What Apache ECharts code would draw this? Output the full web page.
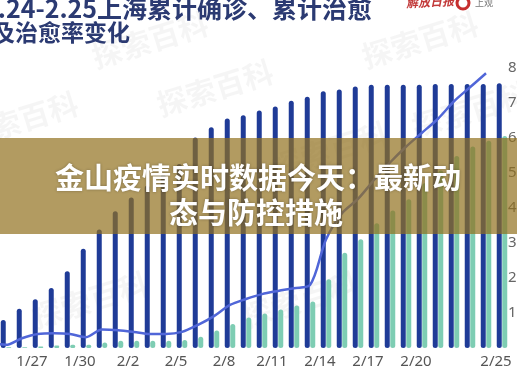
<!DOCTYPE html>
<html>
<head>
<meta charset="utf-8">
<script src="https://cdn.jsdelivr.net/npm/echarts@6/dist/echarts.min.js"></script>
<style>
html,body{margin:0;padding:0;background:#fff;}
#c{width:517px;height:375px;}
</style>
</head>
<body>
<div id="c"></div>
<script>
const categories = ['1/24','1/25','1/26','1/27','1/28','1/29','1/30','1/31',
  '2/1','2/2','2/3','2/4','2/5','2/6','2/7','2/8','2/9','2/10',
  '2/11','2/12','2/13','2/14','2/15','2/16','2/17','2/18','2/19','2/20',
  '2/21','2/22','2/23','2/24','2/25'];
const confirmed = [20,35,49,61,75,96,124,148,
  171,188,203,217,230,263,276,287,291,297,
  302,309,314,321,323,327,329,329,329,329,
  330,330,330,330,331];
const cured = [0,1,1,2,3,4,4,7,
  9,9,9,9,10,14,22,30,38,43,
  48,53,58,86,119,136,156,172,186,206,
  222,240,252,259,265];
const cureRate = [1.5,0.9,2.8,4.0,4.2,4.0,3.1,5.3,
  5.1,4.6,4.0,4.0,4.6,6.6,9.1,12.3,14.0,15.4,
  16.3,17.1,18.0,31,38.5,42.6,48,53,57.5,61.5,
  65.5,70.5,74.5,78.5,null];
const titleLine1 = '1.24-2.25上海累计确诊、累计治愈';
const titleLine2 = '及治愈率变化';
const bannerLine1 = '金山疫情实时数据今天：最新动';
const bannerLine2 = '态与防控措施';
const shownLabels = ['1/27','1/30','2/2','2/5','2/8','2/11','2/14','2/17','2/20','2/25'];

const chart = echarts.init(document.getElementById('c'), null, {renderer:'canvas'});
const wm = [];
[[20,120],[215,88],[150,40],[420,40],[330,150],[90,300],[300,300],[470,110]].forEach(p=>{
  wm.push({type:'text', x:p[0], y:p[1], rotation:0.3, z:1,
    style:{text:'探索百科', font:'bold 30px "Noto Sans CJK SC"', fill:'rgba(0,0,0,0.04)', textAlign:'center', textVerticalAlign:'middle'}});
});
chart.setOption({
  backgroundColor:'#ffffff',
  animation:false,
  grid:{left:-18, right:7, top:68, bottom:27, containLabel:false, outerBoundsMode:'none'},
  xAxis:{
    type:'category', data:categories,
    axisLine:{show:false}, axisTick:{show:false},
    axisLabel:{
      interval:(i,v)=>shownLabels.indexOf(v)>=0,
      color:'#555', fontSize:15, fontFamily:'"Noto Sans", sans-serif',
      margin:6, padding:[0,12,0,0], hideOverlap:false
    }
  },
  yAxis:[
    {type:'value', min:0, max:350, show:false},
    {type:'value', position:'right', min:0, max:80, interval:10,
      axisLine:{show:false}, axisTick:{show:false}, splitLine:{show:false},
      axisLabel:{showMinLabel:false, formatter:'{value}%', color:'#666', fontSize:15,
        fontFamily:'"Noto Sans", sans-serif', margin:-2, align:'left'}}
  ],
  series:[
    {name:'累计确诊', type:'bar', data:confirmed, yAxisIndex:0, barWidth:5, barGap:'10%',
      itemStyle:{color:'#1f3b97', borderRadius:2.5}, z:2},
    {name:'累计治愈', type:'bar', data:cured, yAxisIndex:0, barWidth:5, barGap:'10%',
      itemStyle:{color:'#7ecdb3', borderRadius:2.5}, z:2},
    {name:'治愈率', type:'line', data:cureRate, yAxisIndex:1, smooth:0.3, showSymbol:false,
      lineStyle:{color:'#5066d8', width:2.5}, z:3}
  ],
  graphic:wm.concat([
    {type:'text', x:-17, y:8, z:10, style:{text:titleLine1, font:'bold 25px "Noto Sans CJK SC"', fill:'#2b3a72', textVerticalAlign:'middle'}},
    {type:'text', x:-8, y:32, z:10, style:{text:titleLine2, font:'bold 23px "Noto Sans CJK SC"', fill:'#2b3a72', textVerticalAlign:'middle'}},
    {type:'text', x:406, y:3, z:10, rotation:0.05, style:{text:'解放日报', font:'italic bold 12px "Noto Sans CJK SC"', fill:'#c23a3a', textVerticalAlign:'middle'}},
    {type:'circle', z:10, shape:{cx:463, cy:3, r:6}, style:{fill:'none', stroke:'#c62f2f', lineWidth:3}},
    {type:'text', x:475, y:3, z:10, style:{text:'上观', font:'9px "Noto Sans CJK SC"', fill:'#777', textVerticalAlign:'middle'}},
    {type:'rect', z:20, shape:{x:0, y:138, width:517, height:96}, style:{fill:'rgba(145,112,30,0.7)'}},
    {type:'text', x:258, y:178, z:21, style:{text:bannerLine1, font:'bold 29px "Noto Sans CJK SC"', fill:'#ffffff', textAlign:'center', textVerticalAlign:'middle', textShadowColor:'rgba(0,0,0,0.3)', textShadowBlur:3}},
    {type:'text', x:256, y:213, z:21, style:{text:bannerLine2, font:'bold 29px "Noto Sans CJK SC"', fill:'#ffffff', textAlign:'center', textVerticalAlign:'middle', textShadowColor:'rgba(0,0,0,0.3)', textShadowBlur:3}}
  ])
});
</script>
</body>
</html>
